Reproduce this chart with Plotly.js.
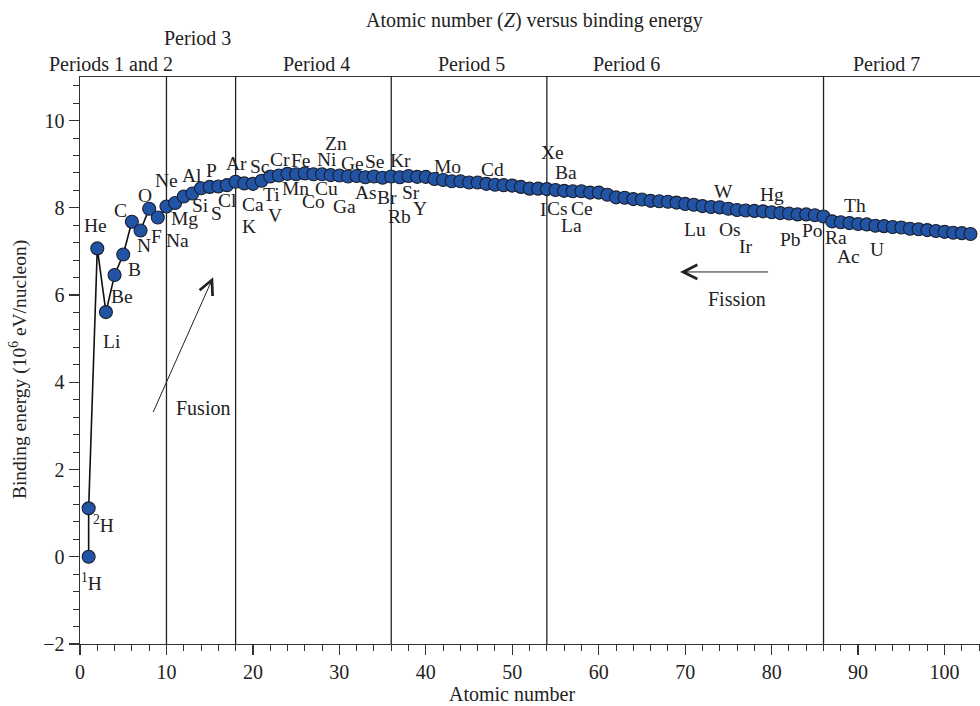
<!DOCTYPE html>
<html>
<head>
<meta charset="utf-8">
<script src="https://cdn.plot.ly/plotly-3.0.1.min.js"></script>
<style>html,body{margin:0;padding:0;background:#fff;}#chart{width:980px;height:706px;}</style>
</head>
<body>
<div id="chart"></div>
<script>
// Atomic number of each plotted nucleus (first two points are 1H and 2H)
const atomicNumber = [1, 1,
  2, 3, 4, 5, 6, 7, 8, 9, 10,
  11, 12, 13, 14, 15, 16, 17, 18,
  19, 20, 21, 22, 23, 24, 25, 26, 27, 28, 29, 30, 31, 32, 33, 34, 35, 36,
  37, 38, 39, 40, 41, 42, 43, 44, 45, 46, 47, 48, 49, 50, 51, 52, 53, 54,
  55, 56, 57, 58, 59, 60, 61, 62, 63, 64, 65, 66, 67, 68, 69, 70, 71, 72, 73, 74, 75, 76, 77, 78, 79, 80, 81, 82, 83, 84, 85, 86,
  87, 88, 89, 90, 91, 92, 93, 94, 95, 96, 97, 98, 99, 100, 101, 102, 103];

// Binding energy (10^6 eV / nucleon)
const bindingEnergy = [0.00, 1.11,
  7.07, 5.61, 6.46, 6.93, 7.68, 7.48, 7.98, 7.78, 8.03,
  8.11, 8.26, 8.33, 8.45, 8.48, 8.49, 8.52, 8.60,
  8.56, 8.55, 8.62, 8.72, 8.74, 8.78, 8.77, 8.79, 8.77, 8.77, 8.75, 8.74, 8.72, 8.73, 8.70, 8.72, 8.69, 8.72,
  8.70, 8.73, 8.71, 8.71, 8.66, 8.64, 8.61, 8.61, 8.58, 8.58, 8.55, 8.53, 8.52, 8.51, 8.48, 8.44, 8.44, 8.43,
  8.41, 8.39, 8.38, 8.38, 8.35, 8.35, 8.30, 8.24, 8.23, 8.20, 8.19, 8.16, 8.15, 8.14, 8.12, 8.09, 8.07, 8.04, 8.02, 8.01, 7.98, 7.95, 7.94, 7.93, 7.92, 7.90, 7.88, 7.87, 7.85, 7.85, 7.83, 7.80,
  7.69, 7.67, 7.65, 7.63, 7.62, 7.59, 7.58, 7.56, 7.55, 7.52, 7.51, 7.49, 7.47, 7.45, 7.43, 7.42, 7.40];

// Element labels: text and index of the labelled point in the series above
const labelText = ['<sup>1</sup>H', '<sup>2</sup>H', 'He', 'Li', 'Be', 'B', 'C', 'N', 'O', 'F', 'Ne', 'Na', 'Mg', 'Al', 'Si', 'P', 'S', 'Cl', 'Ar',
  'K', 'Ca', 'Sc', 'Ti', 'V', 'Cr', 'Mn', 'Fe', 'Co', 'Ni', 'Cu', 'Zn', 'Ga', 'Ge', 'As', 'Se', 'Br', 'Kr',
  'Rb', 'Sr', 'Y', 'Mo', 'Cd', 'I', 'Xe', 'Cs', 'Ba', 'La', 'Ce', 'Lu', 'W', 'Os', 'Ir', 'Hg', 'Pb', 'Po', 'Ra', 'Ac', 'Th', 'U'];
const labelIndex = [0, 1, 2, 3, 4, 5, 6, 7, 8, 9, 10, 11, 12, 13, 14, 15, 16, 17, 18,
  19, 20, 21, 22, 23, 24, 25, 26, 27, 28, 29, 30, 31, 32, 33, 34, 35, 36,
  37, 38, 39, 42, 48, 53, 54, 55, 56, 57, 58, 71, 74, 76, 77, 80, 82, 84, 88, 89, 90, 92];

// Period boundaries and period header labels
const periodBoundaries = [10, 18, 36, 54, 86];
const periodNames = ['Periods 1 and 2', 'Period 3', 'Period 4', 'Period 5', 'Period 6', 'Period 7'];

// ---- styling / placement (pixel offsets of labels from their points: [right, down]) ----
const labelOffset = [[3, 25], [15, 16], [-2, -23], [6, 29], [7, 21], [11, 15], [-11, -11], [3, 15], [-4, -13], [-1, 19], [0, -26],
  [2, 37], [1, 22], [0, -18], [-1, 17], [2, -16], [-2, 27], [1, 15], [1, -18],
  [5, 43], [0, 21], [-2, -14], [1, 18], [-4, 40], [-7, -14], [-1, 14], [-4, -13], [0, 27], [5, -15], [-4, 13], [-3, -32],
  [-4, 30], [-4, -13], [1, 15], [1, -15], [4, 20], [9, -16],
  [0, 39], [2, 16], [3, 32], [4, -13], [-2, -15], [5, 21], [6, -37], [2, 19], [2, -18], [-1, 34], [1, 17],
  [1, 25], [4, -16], [-7, 19], [0, 36], [0, -18], [2, 26], [6, 16], [-5, 15], [-1, 33], [-3, -18], [2, 24]];
const periodLabelPos = [[3.6, 1.023], [13.6, 1.069], [27.3, 1.023], [45.3, 1.023], [63.2, 1.023], [93.3, 1.023]];

const FONT = 'Liberation Serif, Times New Roman, serif';
const TXT = '#222';

const annotations = [];
labelText.forEach((t, i) => {
  const k = labelIndex[i];
  annotations.push({
    x: atomicNumber[k], y: bindingEnergy[k], xref: 'x', yref: 'y',
    text: t, showarrow: false, xanchor: 'center', yanchor: 'middle',
    xshift: labelOffset[i][0], yshift: -labelOffset[i][1],
    font: {family: FONT, size: 19.5, color: TXT}
  });
});
periodNames.forEach((t, i) => {
  annotations.push({
    x: periodLabelPos[i][0], y: periodLabelPos[i][1], xref: 'x', yref: 'paper',
    text: t, showarrow: false, xanchor: 'center', yanchor: 'middle',
    font: {family: FONT, size: 20, color: TXT}
  });
});
// Title, axis titles
annotations.push({x: 52.6, y: 1.10, xref: 'x', yref: 'paper', text: 'Atomic number (<i>Z</i>) versus binding energy',
  showarrow: false, xanchor: 'center', yanchor: 'middle', font: {family: FONT, size: 20, color: TXT}});
annotations.push({x: 50, y: -0.088, xref: 'x', yref: 'paper', text: 'Atomic number',
  showarrow: false, xanchor: 'center', yanchor: 'middle', font: {family: FONT, size: 20, color: TXT}});
annotations.push({x: -0.069, y: 4.3, xref: 'paper', yref: 'y', text: 'Binding energy (10<sup>6</sup> eV/nucleon)',
  textangle: -90, showarrow: false, xanchor: 'center', yanchor: 'middle', font: {family: FONT, size: 19.5, color: TXT}});
// Fusion / Fission arrows and texts
annotations.push({x: 15.4, y: 6.41, ax: 8.0, ay: 3.11, xref: 'x', yref: 'y', axref: 'x', ayref: 'y', text: ' ',
  showarrow: true, arrowhead: 5, arrowsize: 2.8, arrowwidth: 1, arrowcolor: '#222'});
annotations.push({x: 14.2, y: 3.41, xref: 'x', yref: 'y', text: 'Fusion', showarrow: false,
  xanchor: 'center', yanchor: 'middle', font: {family: FONT, size: 20, color: TXT}});
annotations.push({x: 69.4, y: 6.53, ax: 80.05, ay: 6.53, xref: 'x', yref: 'y', axref: 'x', ayref: 'y', text: ' ',
  showarrow: true, arrowhead: 5, arrowsize: 2.8, arrowwidth: 1, arrowcolor: '#222'});
annotations.push({x: 76, y: 5.91, xref: 'x', yref: 'y', text: 'Fission', showarrow: false,
  xanchor: 'center', yanchor: 'middle', font: {family: FONT, size: 20, color: TXT}});

const shapes = periodBoundaries.map(z => ({
  type: 'line', xref: 'x', yref: 'y', x0: z, x1: z, y0: -2, y1: 11,
  line: {color: '#222', width: 1.3}, layer: 'below'
}));

const trace = {
  x: atomicNumber, y: bindingEnergy, type: 'scatter', mode: 'lines+markers',
  line: {color: '#111', width: 1.6},
  marker: {size: 13, color: '#2254a6', line: {color: '#1b1f2e', width: 1.1}},
  cliponaxis: false, hoverinfo: 'x+y'
};

const layout = {
  width: 980, height: 706,
  margin: {l: 80, r: 0, t: 77, b: 62},
  paper_bgcolor: '#fff', plot_bgcolor: '#fff',
  showlegend: false,
  font: {family: FONT, size: 20, color: TXT},
  xaxis: {
    range: [0, 104.1], showgrid: false, zeroline: false,
    showline: true, linecolor: '#333', linewidth: 1.4, mirror: true,
    ticks: 'outside', ticklen: 10, tickwidth: 1.2, tickcolor: '#333',
    tick0: 0, dtick: 10, tickfont: {family: FONT, size: 20, color: TXT},
    minor: {dtick: 2, ticks: 'outside', ticklen: 6, tickwidth: 1, tickcolor: '#333', showgrid: false}
  },
  yaxis: {
    range: [-2, 11], showgrid: false, zeroline: false,
    showline: true, linecolor: '#333', linewidth: 1.4,
    ticks: 'outside', ticklen: 10, tickwidth: 1.2, tickcolor: '#333',
    tick0: 0, dtick: 2, tickfont: {family: FONT, size: 20, color: TXT},
    minor: {dtick: 0.4, tick0: 0, ticks: 'outside', ticklen: 6, tickwidth: 1, tickcolor: '#333', showgrid: false}
  },
  annotations: annotations,
  shapes: shapes
};

Plotly.newPlot('chart', [trace], layout, {staticPlot: true, displayModeBar: false});
</script>
</body>
</html>
